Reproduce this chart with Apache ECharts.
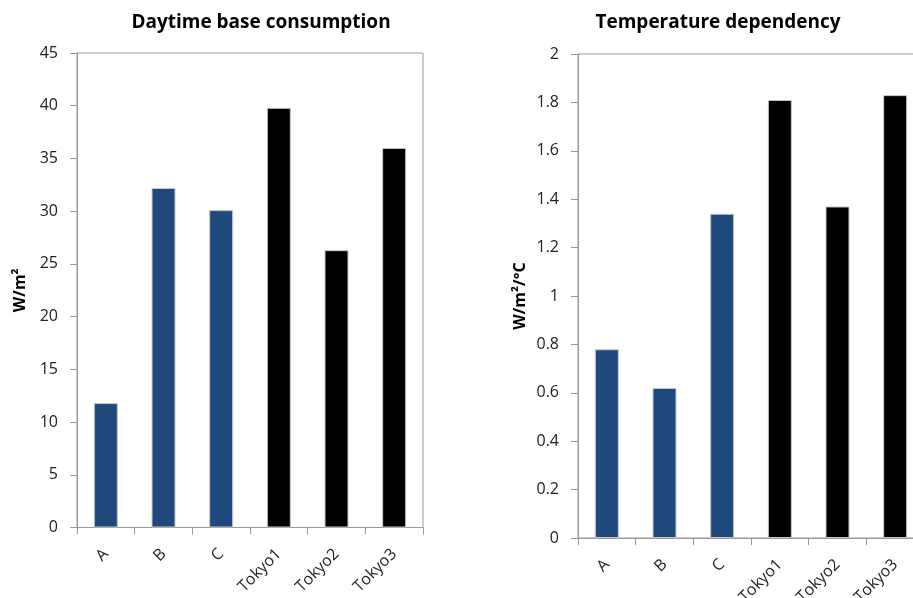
<!DOCTYPE html>
<html>
<head>
<meta charset="utf-8">
<script src="https://cdn.jsdelivr.net/npm/echarts@6/dist/echarts.min.js"></script>
<style>
  html, body { margin: 0; padding: 0; background: #fff; }
  #chart { width: 913px; height: 598px; }
</style>
</head>
<body>
<div id="chart"></div>
<script>
// Sites compared in both panels
const categories = ['A', 'B', 'C', 'Tokyo1', 'Tokyo2', 'Tokyo3'];
// Which group each site belongs to (drives bar colour)
const siteGroup = ['ref', 'ref', 'ref', 'tokyo', 'tokyo', 'tokyo'];
// Daytime base consumption, W/m²
const baseConsumption = [11.8, 32.2, 30.1, 39.8, 26.3, 36.0];
// Temperature dependency, W/m²/°C
const tempDependency = [0.78, 0.62, 1.34, 1.81, 1.37, 1.83];
// Y axis tick settings
const leftAxis = { min: 0, max: 45, interval: 5 };
const rightAxis = { min: 0, max: 2, interval: 0.2 };

const groupColor = { ref: '#1F497D', tokyo: '#000000' };
const FONT = 'Open Sans';

function barData(values) {
  return values.map((v, i) => ({
    value: v,
    itemStyle: { color: groupColor[siteGroup[i]] }
  }));
}

function xAxis(gridIndex) {
  return {
    type: 'category',
    gridIndex,
    data: categories,
    axisLine: { lineStyle: { color: '#9a9a9a', width: 1 } },
    axisTick: { show: true, length: 7, lineStyle: { color: '#9a9a9a' } },
    axisLabel: { rotate: 45, color: '#222', fontSize: 16, fontFamily: FONT, margin: 24 }
  };
}

function yAxis(gridIndex, cfg, name, nameGap) {
  return {
    type: 'value',
    gridIndex,
    min: cfg.min, max: cfg.max, interval: cfg.interval,
    name,
    nameLocation: 'middle',
    nameGap,
    nameRotate: 90,
    nameTextStyle: { color: '#000', fontSize: 16, fontWeight: 'bold', fontFamily: FONT },
    axisLine: { show: true, lineStyle: { color: '#9a9a9a', width: 1 } },
    axisTick: { show: true, length: 7, lineStyle: { color: '#9a9a9a' } },
    axisLabel: { color: '#222', fontSize: 16, fontFamily: FONT, margin: 19 },
    splitLine: { show: false }
  };
}

const chart = echarts.init(document.getElementById('chart'), null, { renderer: 'canvas' });
chart.setOption({
  animation: false,
  backgroundColor: '#fff',
  title: [
    { text: 'Daytime base consumption', left: 256, top: 8, textAlign: 'center',
      textStyle: { fontSize: 19, fontWeight: 'bold', color: '#000', fontFamily: FONT } },
    { text: 'Temperature dependency', left: 713, top: 8, textAlign: 'center',
      textStyle: { fontSize: 19, fontWeight: 'bold', color: '#000', fontFamily: FONT } }
  ],
  grid: [
    { left: 77, top: 53, width: 346, height: 474.5, outerBoundsMode: 'none', containLabel: false,
      show: true, borderColor: '#9a9a9a', borderWidth: 1, backgroundColor: 'transparent' },
    { left: 578, top: 54, width: 346, height: 484, outerBoundsMode: 'none', containLabel: false,
      show: true, borderColor: '#9a9a9a', borderWidth: 1, backgroundColor: 'transparent' }
  ],
  xAxis: [xAxis(0), xAxis(1)],
  yAxis: [
    yAxis(0, leftAxis, 'W/m²', 49),
    yAxis(1, rightAxis, 'W/m²/°C', 50)
  ],
  series: [
    { type: 'bar', xAxisIndex: 0, yAxisIndex: 0, data: barData(baseConsumption),
      barWidth: 24, itemStyle: { borderColor: '#c8c8c8', borderWidth: 1 } },
    { type: 'bar', xAxisIndex: 1, yAxisIndex: 1, data: barData(tempDependency),
      barWidth: 24, itemStyle: { borderColor: '#c8c8c8', borderWidth: 1 } }
  ]
});
</script>
</body>
</html>
